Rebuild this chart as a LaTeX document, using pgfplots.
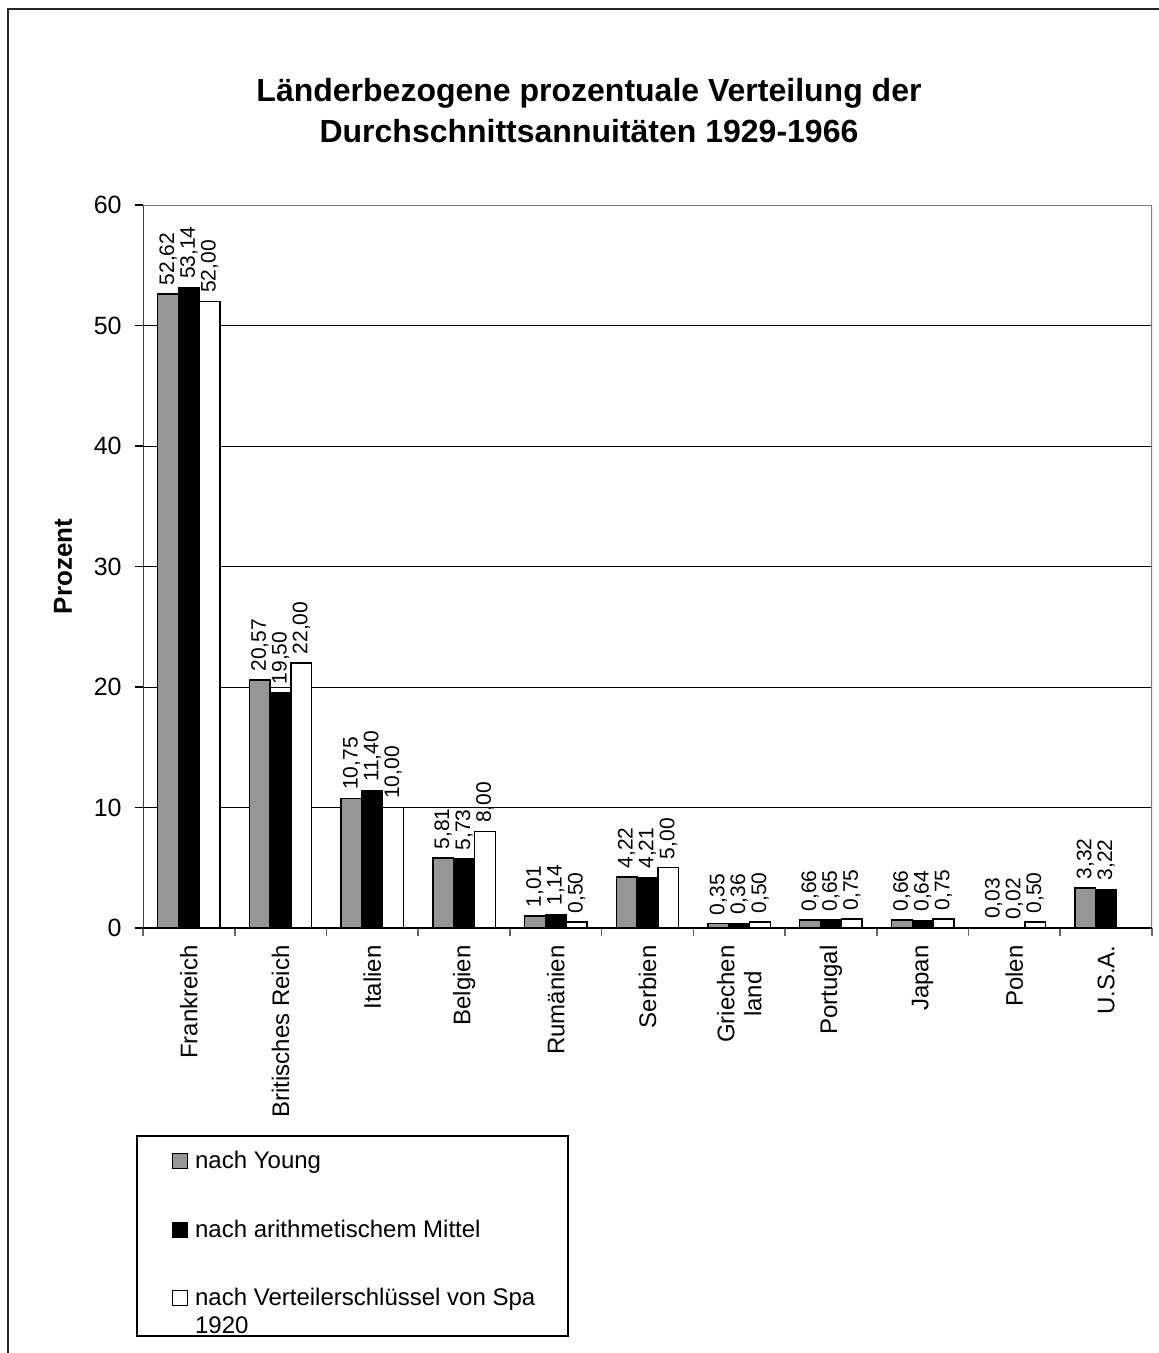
\documentclass[border=0pt]{standalone}
\usepackage{pgfplots}
\pgfplotsset{compat=1.18}
\usepackage{fontspec}
\setmainfont{Liberation Sans}
\definecolor{barGray}{RGB}{150,150,150}
\begin{document}
\begin{tikzpicture}
\useasboundingbox (0,0) rectangle (579pt,-676.5pt);
\draw[black!85, line width=1pt] (4pt,-700pt) -- (4pt,-4.5pt) -- (600pt,-4.5pt);
\begin{axis}[
  at={(71.5pt,-464pt)}, anchor=south west,
  scale only axis, width=504.5pt, height=361.5pt,
  xmin=-0.5, xmax=10.5, ymin=0, ymax=60,
  ytick={0,10,...,60},
  xtick={0,...,10},
  xticklabels={Frankreich, Britisches Reich, Italien, Belgien, Rumänien, Serbien, {Griechen\\land}, Portugal, Japan, Polen, U.S.A.},
  minor xtick={-0.5,0.5,...,10.5},
  xtick pos=bottom, ytick pos=left,
  tick align=outside,
  major tick length=4pt, minor tick length=4pt,
  every major x tick/.append style={draw=none},
  every minor x tick/.append style={black!60, line width=0.8pt},
  every y tick/.append style={black, line width=0.6pt},
  axis line style={draw=none},
  ymajorgrids=true,
  major grid style={black, line width=0.5pt},
  /pgf/number format/assume math mode=true,
  yticklabel style={inner sep=0pt, font=\fontsize{12.5}{14}\selectfont},
  yticklabel shift=6.5pt,
  xticklabel style={rotate=90, anchor=east, align=center, inner sep=0pt, font=\fontsize{12}{13.5}\selectfont},
  xticklabel shift=4.5pt,
  ylabel={Prozent},
  ylabel style={at={(rel axis cs:-0.0793,0.5)}, anchor=center, font=\bfseries\fontsize{13}{15}\selectfont},
  title={Länderbezogene prozentuale Verteilung der\\Durchschnittsannuitäten 1929-1966},
  title style={at={(rel axis cs:0.442,1.1591)}, anchor=north, align=center, inner sep=0pt, font=\bfseries\fontsize{16}{20.5}\selectfont},
  ybar=0pt, bar width=10.4pt,
  every axis plot/.append style={draw=black, line width=0.7pt},
  nodes near coords={\pgfmathprintnumber[fixed,fixed zerofill,precision=2,use comma]{\pgfplotspointmeta}},
  nodes near coords style={rotate=90, anchor=west, inner sep=4pt, font=\fontsize{10.5}{12}\selectfont, black},
  legend image code/.code={\draw[#1, line width=0.6pt] (0pt,0pt) rectangle (7.5pt,7.5pt); \path (11pt,0pt);},
  legend style={at={(axis description cs:-0.0069,-0.2863)}, anchor=north west, draw=black, line width=0.8pt, fill=white,
    inner xsep=17.5pt, inner ysep=1pt, row sep=20.25pt, font=\fontsize{12}{14}\selectfont,
    cells={anchor=base west}, nodes={inner sep=0pt, text depth=}},
]
\addplot[fill=barGray] coordinates {(0,52.62) (1,20.57) (2,10.75) (3,5.81) (4,1.01) (5,4.22) (6,0.35) (7,0.66) (8,0.66) (9,0.03) (10,3.32)};
\addplot[fill=black] coordinates {(0,53.14) (1,19.50) (2,11.40) (3,5.73) (4,1.14) (5,4.21) (6,0.36) (7,0.65) (8,0.64) (9,0.02) (10,3.22)};
\addplot[fill=white] coordinates {(0,52.00) (1,22.00) (2,10.00) (3,8.00) (4,0.50) (5,5.00) (6,0.50) (7,0.75) (8,0.75) (9,0.50)};
\addlegendentry{\rule{0pt}{15.5pt}\strut nach Young}
\addlegendentry{\strut nach arithmetischem Mittel}
\addlegendentry{\parbox[t]{169pt}{\strut\mbox{nach Verteilerschlüssel von Spa}\\1920}}
\draw[black!50, line width=1pt] (rel axis cs:0,1) -- (rel axis cs:1,1) -- (rel axis cs:1,0);
\draw[black!75, line width=1pt] (rel axis cs:0,0) -- (rel axis cs:0,1);
\draw[black, line width=0.8pt] (rel axis cs:0,0) -- (rel axis cs:1,0);
\end{axis}
\end{tikzpicture}
\end{document}
